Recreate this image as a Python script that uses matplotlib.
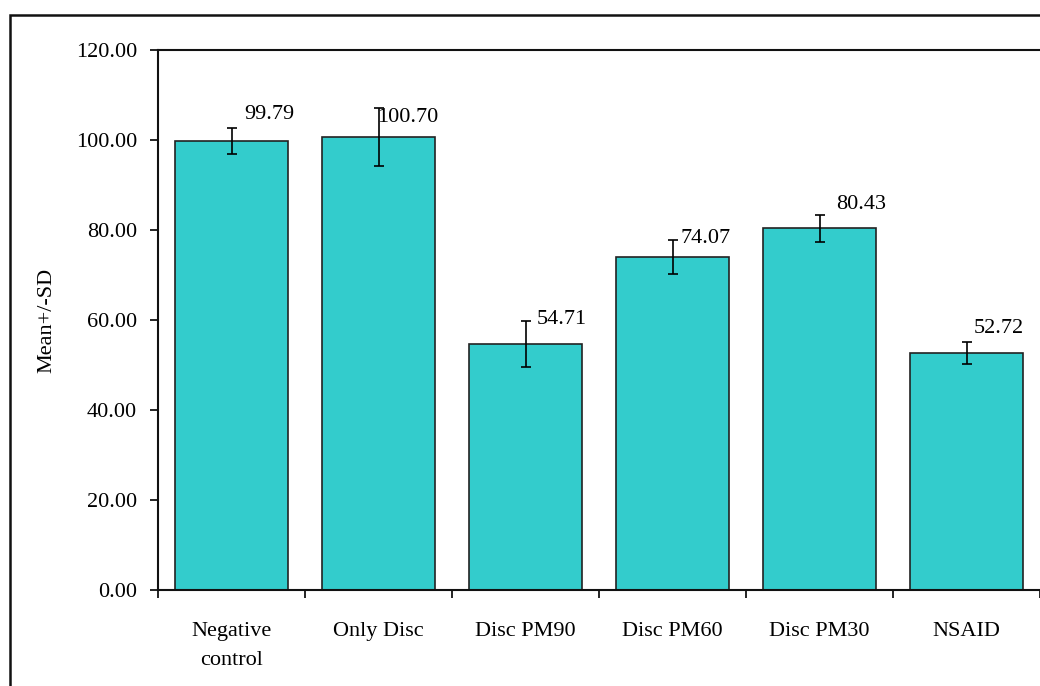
import matplotlib
matplotlib.use("Agg")
import matplotlib.pyplot as plt
from matplotlib.patches import Rectangle

# Group names, means and standard deviations
groups = ["Negative\ncontrol", "Only Disc", "Disc PM90", "Disc PM60", "Disc PM30", "NSAID"]
means = [99.79, 100.70, 54.71, 74.07, 80.43, 52.72]
sds = [2.9, 6.4, 5.1, 3.8, 3.0, 2.4]

# Where each value label sits relative to the top of its error bar (points)
label_offsets = [(9, 10), (-1, -7), (8, 1), (6, 1), (12, 7), (5, 10)]

plt.rcParams["font.family"] = ["Liberation Serif", "DejaVu Serif"]
plt.rcParams["font.size"] = 16

fig = plt.figure(figsize=(10.4, 6.86), dpi=100)

# Outer frame around the chart area
fig.patches.append(Rectangle((10 / 1040, -0.1), 1.2, 1.1 - 15 / 686,
                             transform=fig.transFigure, fill=False,
                             edgecolor="#111111", linewidth=1.8, clip_on=False))

ax = fig.add_axes([158 / 1040, 1 - 590 / 686, 1 - 158 / 1040, 540 / 686])

x = range(len(groups))
ax.bar(x, means, width=0.77, color="#33CCCC", edgecolor="#222222", linewidth=1.2,
       yerr=sds, error_kw=dict(ecolor="black", elinewidth=1.2, capsize=3.3, capthick=1.2),
       zorder=2)

for i, (m, s) in enumerate(zip(means, sds)):
    dx, dy = label_offsets[i]
    ax.annotate(f"{m:.2f}", xy=(i, m + s), xytext=(dx, dy), textcoords="offset points",
                ha="left", va="center", fontsize=16)

ax.set_xlim(-0.5, len(groups) - 0.5)
ax.set_ylim(0, 120)
ax.set_yticks(range(0, 121, 20))
ax.set_yticklabels([f"{v:.2f}" for v in range(0, 121, 20)])

ax.set_xticks(list(x))
ax.set_xticklabels(groups, linespacing=1.75)
ax.set_xticks([i - 0.5 for i in range(len(groups) + 1)], minor=True)
ax.tick_params(axis="x", which="major", length=0, pad=23)
ax.tick_params(axis="x", which="minor", length=6, width=1.2, direction="out")
ax.tick_params(axis="y", length=6, width=1.2, direction="out", pad=9)

ax.set_ylabel("Mean+/-SD", labelpad=14)

for side in ["left", "top", "bottom"]:
    ax.spines[side].set_linewidth(1.5)
    ax.spines[side].set_color("#111111")
ax.spines["right"].set_visible(False)

fig.savefig("out.png", dpi=100)
